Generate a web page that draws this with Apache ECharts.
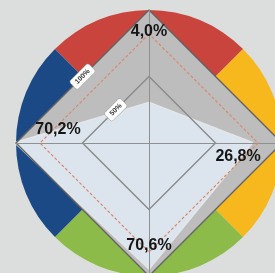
<!DOCTYPE html>
<html>
<head>
<meta charset="utf-8">
<script src="https://cdn.jsdelivr.net/npm/echarts@6/dist/echarts.min.js"></script>
<style>
html,body{margin:0;padding:0;background:#dcdedd;}
#chart{width:275px;height:273px;}
</style>
</head>
<body>
<div id="chart"></div>
<script>
// radar axes go counterclockwise from the top: top, left, bottom, right
var valueLabels = ['4,0%', '70,2%', '70,6%', '26,8%'];
var areaValues = [30, 100, 94, 77];
var targetValues = [82, 82, 82, 82];
var ringLabels = ['50%', '100%'];
var quadrants = ['top', 'right', 'bottom', 'left'];
var quadrantColors = ['#c9443c', '#f6b81d', '#8cbb49', '#1b4985'];

var CX = 149, CY = 143, R = 133;

// nudges for the value labels (rich padding moves the centred box)
var labelPad = [[0, 0, 4, 0], [0, 0, 26, 36], [0, 0, 12, 0], [28, 40, 0, 0]];

var rich = {};
valueLabels.forEach(function (t, i) {
    rich['v' + i] = {
        fontFamily: 'Liberation Sans, Arial, sans-serif',
        fontWeight: 'bold',
        fontSize: 16,
        color: '#161616',
        padding: labelPad[i]
    };
});

var indicators = valueLabels.map(function (t) { return { name: t, max: 100 }; });

var radarBase = {
    center: [CX, CY],
    radius: R,
    startAngle: 90,
    shape: 'polygon',
    splitNumber: 2,
    indicator: indicators,
    axisName: { show: false }
};

var myChart = echarts.init(document.getElementById('chart'));
myChart.setOption({
    backgroundColor: '#dcdedd',
    animation: false,
    radar: [
        Object.assign({}, radarBase, {
            z: 1,
            axisLine: { show: false },
            splitLine: { show: false },
            splitArea: { show: true, areaStyle: { color: ['#bdbdbd'] } }
        }),
        Object.assign({}, radarBase, {
            z: 4,
            axisLine: { show: true, lineStyle: { color: '#8f9092', width: 1 } },
            splitLine: { show: true, lineStyle: { color: ['#8a8a8a', '#8a8a8a', '#636363'], width: 1.4 } },
            splitArea: { show: false }
        })
    ],
    series: [
        {
            type: 'pie',
            z: 0,
            silent: true,
            center: [CX, CY],
            radius: R,
            startAngle: 135,
            label: { show: false },
            labelLine: { show: false },
            color: quadrantColors,
            data: quadrants.map(function (q) { return { name: q, value: 1 }; })
        },
        {
            type: 'radar',
            radarIndex: 0,
            z: 3,
            symbol: 'none',
            lineStyle: { color: '#e4e6e8', width: 3 },
            areaStyle: { color: '#dce5ee', opacity: 1 },
            data: [{ value: areaValues }]
        },
        {
            type: 'radar',
            radarIndex: 1,
            z: 5,
            symbol: 'circle',
            symbolSize: 1,
            itemStyle: { color: 'rgba(0,0,0,0)' },
            lineStyle: { color: '#d98a6c', width: 1.2, type: [3, 2] },
            label: {
                show: true,
                position: 'inside',
                formatter: function (p) {
                    var i = p.dimensionIndex;
                    return '{v' + i + '|' + valueLabels[i] + '}';
                },
                rich: rich
            },
            data: [{ value: targetValues }]
        }
    ],
    graphic: ringLabels.map(function (t, i) {
        var r = R * (i + 1) / 2;
        return {
            type: 'text',
            z: 10,
            x: CX - r / 2,
            y: CY - r / 2,
            rotation: Math.PI / 4,
            style: {
                text: t,
                fontSize: 7,
                fontWeight: 'bold',
                fontFamily: 'Liberation Sans, Arial, sans-serif',
                fill: '#333',
                align: 'center',
                verticalAlign: 'middle',
                backgroundColor: '#ffffff',
                borderColor: '#a0a0a0',
                borderWidth: 0.5,
                borderRadius: 2,
                padding: [2, 4]
            }
        };
    })
});
</script>
</body>
</html>
